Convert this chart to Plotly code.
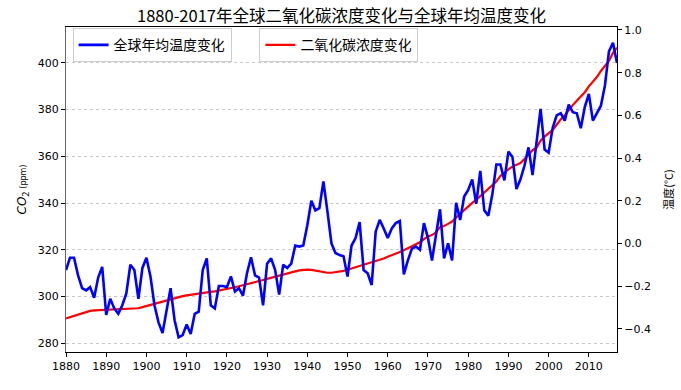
import plotly.graph_objects as go

years = list(range(1880, 2018))

temp_anomaly = [
    -0.125, -0.067, -0.067, -0.15, -0.21, -0.22, -0.205, -0.255, -0.16, -0.11,
    -0.335, -0.26, -0.305, -0.33, -0.29, -0.235, -0.10, -0.125, -0.26, -0.115,
    -0.067, -0.155, -0.29, -0.37, -0.42, -0.31, -0.21, -0.36, -0.44, -0.43,
    -0.38, -0.425, -0.33, -0.32, -0.125, -0.07, -0.29, -0.305, -0.20, -0.20,
    -0.205, -0.155, -0.225, -0.21, -0.245, -0.14, -0.065, -0.15, -0.16, -0.29,
    -0.095, -0.07, -0.125, -0.24, -0.10, -0.115, -0.095, -0.01, -0.015, -0.01,
    0.085, 0.20, 0.155, 0.165, 0.29, 0.15, 0.00, -0.045, -0.055, -0.06,
    -0.155, -0.01, 0.025, 0.10, -0.125, -0.14, -0.195, 0.055, 0.11, 0.07,
    0.025, 0.07, 0.095, 0.105, -0.145, -0.08, -0.025, -0.015, -0.03, 0.095,
    0.025, -0.08, 0.045, 0.16, -0.07, 0.00, -0.08, 0.19, 0.11, 0.22,
    0.25, 0.30, 0.185, 0.34, 0.155, 0.13, 0.23, 0.37, 0.37, 0.295,
    0.43, 0.405, 0.255, 0.30, 0.365, 0.45, 0.32, 0.49, 0.63, 0.44,
    0.425, 0.54, 0.60, 0.61, 0.575, 0.65, 0.615, 0.61, 0.54, 0.64,
    0.70, 0.575, 0.61, 0.645, 0.74, 0.90, 0.94, 0.845,
]

co2_ppm = [
    290.7, 291.2, 291.7, 292.3, 292.9, 293.5, 293.9, 294.1, 294.2, 294.3,
    294.4, 294.4, 294.5, 294.5, 294.6, 294.6, 294.7, 294.8, 295.0, 295.5,
    296.0, 296.5, 297.0, 297.5, 298.0, 298.5, 299.0, 299.4, 299.8, 300.2,
    300.5, 300.8, 301.1, 301.4, 301.6, 301.8, 302.0, 302.2, 302.5, 302.8,
    303.2, 303.6, 304.0, 304.4, 304.8, 305.3, 305.7, 306.2, 306.6, 307.1,
    307.6, 308.1, 308.6, 309.1, 309.5, 309.9, 310.4, 310.8, 311.2, 311.4,
    311.5, 311.4, 311.1, 310.7, 310.4, 310.2, 310.2, 310.4, 310.6, 311.0,
    311.5, 312.0, 312.5, 313.0, 313.5, 314.0, 314.6, 315.2, 315.7, 316.3,
    317.0, 317.6, 318.4, 319.1, 319.8, 320.6, 321.6, 322.3, 323.2, 324.6,
    325.7, 326.3, 327.5, 329.7, 330.2, 331.1, 332.1, 333.8, 335.4, 336.8,
    338.8, 340.1, 341.4, 343.0, 344.6, 346.0, 347.4, 349.2, 351.6, 353.1,
    354.4, 355.6, 356.4, 357.1, 358.8, 360.8, 362.6, 363.7, 366.7, 368.4,
    369.7, 371.3, 373.5, 375.8, 377.5, 379.8, 381.9, 383.8, 385.6, 387.4,
    389.9, 391.7, 393.9, 396.5, 398.7, 400.8, 404.2, 406.5,
]

x_ticks = list(range(1880, 2011, 10))
co2_ticks = [280, 300, 320, 340, 360, 380, 400]
temp_ticks = [-0.4, -0.2, 0.0, 0.2, 0.4, 0.6, 0.8, 1.0]

title_text = "1880-2017年全球二氧化碳浓度变化与全球年均温度变化"
temp_name = "全球年均温度变化"
co2_name = "二氧化碳浓度变化"

FONT = "DejaVu Sans, Noto Sans CJK SC, sans-serif"
CJK = "Noto Sans CJK SC, DejaVu Sans, sans-serif"

fig = go.Figure()
fig.add_trace(go.Scatter(
    x=years, y=co2_ppm, mode="lines", name=co2_name,
    line=dict(color="#ff0000", width=2.2), yaxis="y", legend="legend2",
))
fig.add_trace(go.Scatter(
    x=years, y=temp_anomaly, mode="lines", name=temp_name,
    line=dict(color="#0000ff", width=2.6), yaxis="y2", legend="legend",
))

fig.update_layout(
    width=681, height=390,
    margin=dict(l=66, r=64, t=27, b=38, autoexpand=False),
    paper_bgcolor="white", plot_bgcolor="white",
    font=dict(family=FONT, size=11, color="black"),
    title=dict(text=title_text, x=0.5, xref="paper", xanchor="center",
               y=1 - 16 / 390, yref="container", yanchor="middle",
               font=dict(family=CJK, size=16.5, color="black")),
    xaxis=dict(range=[1880, 2017], tickvals=x_ticks, ticks="outside", ticklen=4,
               tickcolor="black", showline=True, linecolor="black", linewidth=1.2,
               mirror=True, showgrid=False, zeroline=False, automargin=False,
               tickfont=dict(size=11, color="black")),
    yaxis=dict(range=[276.3, 415.3], tickvals=co2_ticks, ticks="outside", ticklen=4,
               tickcolor="black", showline=True, linecolor="#666666", linewidth=1.2,
               showgrid=True, gridcolor="#c8c8c8", griddash="dot", gridwidth=1,
               zeroline=False, automargin=False, tickfont=dict(size=11, color="black"),
               title=dict(text="<i>CO</i><sub>2</sub><span style='font-size:8px'> (ppm)</span>",
                          font=dict(size=12, color="black"), standoff=8)),
    yaxis2=dict(range=[-0.509, 1.014], tickvals=temp_ticks, tickformat=".1f",
                overlaying="y", side="right", ticks="outside", ticklen=4,
                tickcolor="black", showline=True, linecolor="black", linewidth=1.2,
                showgrid=False, zeroline=False, automargin=False,
                tickfont=dict(size=11, color="black"),
                title=dict(text="温度(°C)", font=dict(family=CJK, size=11, color="black"),
                           standoff=15)),
    legend=dict(x=0.012, y=0.996, xanchor="left", yanchor="top",
                bgcolor="white", bordercolor="#cccccc", borderwidth=1,
                font=dict(family=CJK, size=13.9, color="black"), itemwidth=30),
    legend2=dict(x=0.351, y=0.996, xanchor="left", yanchor="top",
                 bgcolor="white", bordercolor="#cccccc", borderwidth=1,
                 font=dict(family=CJK, size=13.9, color="black"), itemwidth=30),
    showlegend=True,
)

fig.write_html("out.html", config={"displayModeBar": False},
               post_script="document.body.style.margin='0px';")
